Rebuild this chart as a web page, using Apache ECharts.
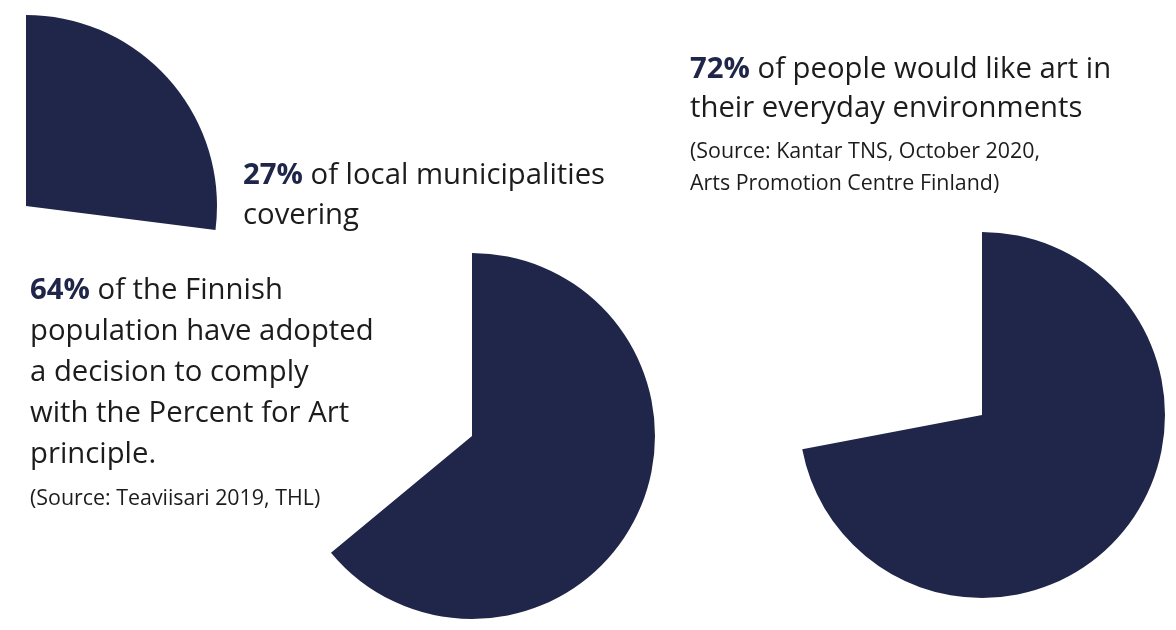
<!DOCTYPE html>
<html>
<head>
<meta charset="utf-8">
<script src="https://cdn.jsdelivr.net/npm/echarts@6/dist/echarts.min.js"></script>
<style>
html,body{margin:0;padding:0;background:#fff;}
#chart{width:1176px;height:630px;}
</style>
</head>
<body>
<div id="chart"></div>
<script>
// Data
const percentages = [27, 64, 72];
const statements = [
  ['of local municipalities', 'covering'],
  ['of the Finnish', 'population have adopted', 'a decision to comply', 'with the Percent for Art', 'principle.'],
  ['of people would like art in', 'their everyday environments']
];
const sources = [
  [],
  ['(Source: Teaviisari 2019, THL)'],
  ['(Source: Kantar TNS, October 2020,', 'Arts Promotion Centre Finland)']
];

const NAVY = '#20264a';
const TEXT = '#1c1c1c';
const FONT = '"Open Sans", "Noto Sans", sans-serif';

// layout (positions / sizes)
const pieLayout = [
  { center: [26, 206], radius: 191 },
  { center: [472, 436], radius: 183 },
  { center: [982, 415], radius: 183 }
];
const textLayout = [
  { x: 243, y: 155, size: 29.3, lh: 40.5, srcY: 0, srcSize: 21.4, srcLh: 32 },
  { x: 30, y: 270, size: 29.3, lh: 41, srcY: 483, srcSize: 21.4, srcLh: 32 },
  { x: 690, y: 49.5, size: 29.3, lh: 39.5, srcY: 136, srcSize: 21.4, srcLh: 32 }
];

const series = percentages.map((p, i) => ({
  type: 'pie',
  center: pieLayout[i].center,
  radius: [0, pieLayout[i].radius],
  startAngle: 90,
  clockwise: true,
  silent: true,
  avoidLabelOverlap: false,
  label: { show: false },
  labelLine: { show: false },
  emphasis: { disabled: true },
  itemStyle: { borderWidth: 0 },
  data: [
    { value: p, name: p + '%', itemStyle: { color: NAVY } },
    { value: 100 - p, name: 'rest', itemStyle: { color: 'rgba(0,0,0,0)' } }
  ]
}));

const graphics = [];
percentages.forEach((p, i) => {
  const L = textLayout[i];
  const lines = statements[i].slice();
  lines[0] = '{b|' + p + '%} {n|' + lines[0] + '}';
  for (let k = 1; k < lines.length; k++) lines[k] = '{n|' + lines[k] + '}';
  graphics.push({
    type: 'text',
    left: L.x,
    top: L.y,
    silent: true,
    style: {
      text: lines.join('\n'),
      font: L.size + 'px ' + FONT,
      fill: TEXT,
      lineHeight: L.lh,
      rich: {
        b: { fontFamily: FONT, fontSize: L.size, fontWeight: 'bold', fill: NAVY, lineHeight: L.lh },
        n: { fontFamily: FONT, fontSize: L.size, fill: TEXT, lineHeight: L.lh }
      }
    }
  });
  if (sources[i].length) {
    graphics.push({
      type: 'text',
      left: L.x,
      top: L.srcY,
      silent: true,
      style: {
        text: sources[i].join('\n'),
        font: L.srcSize + 'px ' + FONT,
        fill: TEXT,
        lineHeight: L.srcLh
      }
    });
  }
});

const chart = echarts.init(document.getElementById('chart'), null, { renderer: 'canvas' });
chart.setOption({
  animation: false,
  backgroundColor: '#ffffff',
  series: series,
  graphic: graphics
});
</script>
</body>
</html>
